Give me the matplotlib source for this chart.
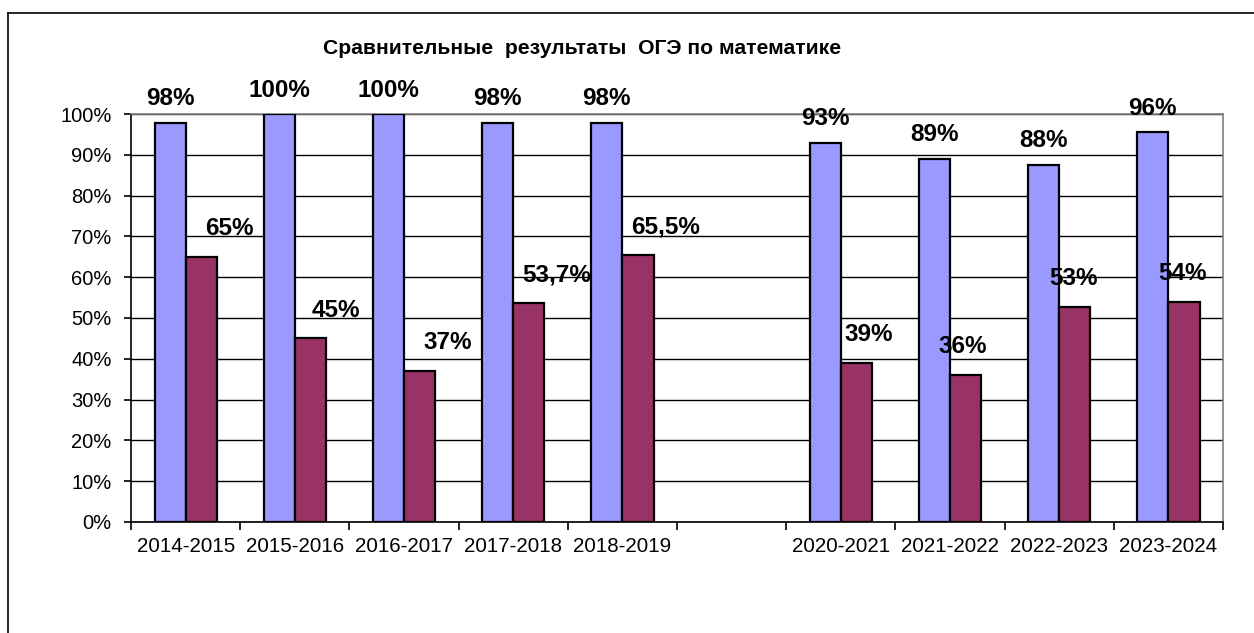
import matplotlib.pyplot as plt
import numpy as np
from matplotlib.lines import Line2D

plt.rcParams['font.family'] = ['Liberation Sans', 'DejaVu Sans']

# data
years = ['2014-2015', '2015-2016', '2016-2017', '2017-2018', '2018-2019', '',
         '2020-2021', '2021-2022', '2022-2023', '2023-2024']
blue_vals = [97.8, 100, 100, 97.8, 97.8, np.nan, 93, 89, 87.5, 95.5]
blue_text = ['98%', '100%', '100%', '98%', '98%', '', '93%', '89%', '88%', '96%']
red_vals = [65, 45, 37, 53.7, 65.5, np.nan, 39, 36, 52.7, 54]
red_text = ['65%', '45%', '37%', '53,7%', '65,5%', '', '39%', '36%', '53%', '54%']

# label shifts in points (layout only)
red_dx = [20, 18, 20, 20, 20, 0, 9, -2, -1, -1]

fig = plt.figure(figsize=(12.54, 6.33), dpi=100)
ax = fig.add_axes([0.1045, 0.1754, 0.8708, 0.6445])

x = np.arange(len(years))
w = 0.285
ax.bar(x - w / 2, blue_vals, w, color='#9999FF', edgecolor='black', lw=1.6, zorder=3)
ax.bar(x + w / 2, red_vals, w, color='#993366', edgecolor='black', lw=1.6, zorder=3)

for i in range(len(years)):
    if blue_text[i]:
        ax.annotate(blue_text[i], (x[i] - w / 2, blue_vals[i]), xytext=(0, 9),
                    textcoords='offset points', ha='center', va='bottom',
                    fontsize=17.5, fontweight='bold')
    if red_text[i]:
        ax.annotate(red_text[i], (x[i] + w / 2, red_vals[i]), xytext=(red_dx[i], 12),
                    textcoords='offset points', ha='center', va='bottom',
                    fontsize=17.5, fontweight='bold', zorder=5)

ax.set_xlim(-0.5, len(years) - 0.5)
ax.set_ylim(0, 100)
ax.set_yticks(np.arange(0, 101, 10))
ax.set_yticklabels([f'{v}%' for v in range(0, 101, 10)], fontsize=14.5)
ax.yaxis.grid(True, color='black', lw=1.0, zorder=0)

ax.set_xticks(np.arange(-0.5, len(years)), minor=False)
ax.set_xticklabels([])
ax.set_xticks(x, minor=True)
ax.set_xticklabels(years, minor=True, fontsize=14.8)
ax.tick_params(axis='x', which='major', direction='out', length=6, width=1.2)
ax.tick_params(axis='x', which='minor', length=0, pad=11)
ax.tick_params(axis='y', direction='out', length=5, width=1.2, pad=9)

for s in ['top', 'right']:
    ax.spines[s].set_color('#808080')
    ax.spines[s].set_linewidth(1.2)
for s in ['left', 'bottom']:
    ax.spines[s].set_color('black')
    ax.spines[s].set_linewidth(1.2)

fig.text(0.464, 0.924, 'Сравнительные  результаты  ОГЭ по математике',
         ha='center', va='center', fontsize=15.2, fontweight='bold')

# outer chart frame
fig.add_artist(Line2D([8 / 1254, 8 / 1254], [0, 1 - 13 / 633], color='black', lw=1.2))
fig.add_artist(Line2D([8 / 1254, 1], [1 - 13 / 633, 1 - 13 / 633], color='black', lw=1.2))

fig.savefig('out.png', dpi=100)
